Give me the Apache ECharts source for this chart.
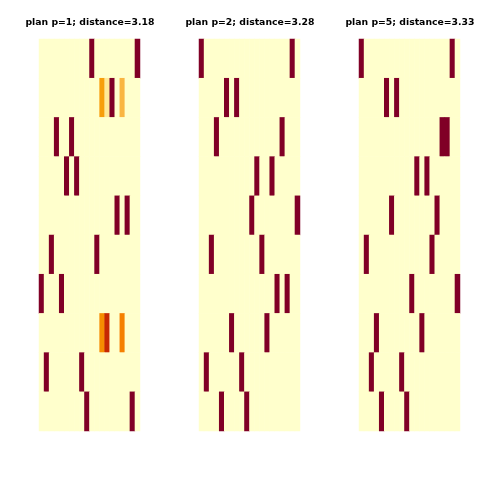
<!DOCTYPE html>
<html>
<head>
<meta charset="utf-8">
<script src="https://cdn.jsdelivr.net/npm/echarts@6/dist/echarts.min.js"></script>
<style>html,body{margin:0;padding:0;background:#fff}#c{width:480px;height:480px}</style>
</head>
<body>
<div id="c"></div>
<script>
// 10 rows x 20 columns; nonzero entries as [row, col, value]
var nRows = 10, nCols = 20;
var titles = ['plan p=1; distance=3.18', 'plan p=2; distance=3.28', 'plan p=5; distance=3.33'];
var plan1 = [
  [0,10,1],[0,19,1],
  [1,12,0.48],[1,13,0.15],[1,14,1],[1,16,0.37],
  [2,3,1],[2,6,1],
  [3,5,1],[3,7,1],
  [4,15,1],[4,17,1],
  [5,2,1],[5,11,1],
  [6,0,1],[6,4,1],
  [7,12,0.55],[7,13,0.85],[7,16,0.6],
  [8,1,1],[8,8,1],
  [9,9,1],[9,18,1]
];
var plan2 = [
  [0,0,1],[0,18,1],
  [1,5,1],[1,7,1],
  [2,3,1],[2,16,1],
  [3,11,1],[3,14,1],
  [4,10,1],[4,19,1],
  [5,2,1],[5,12,1],
  [6,15,1],[6,17,1],
  [7,6,1],[7,13,1],
  [8,1,1],[8,8,1],
  [9,4,1],[9,9,1]
];
var plan3 = [
  [0,0,1],[0,18,1],
  [1,5,1],[1,7,1],
  [2,16,1],[2,17,1],
  [3,11,1],[3,13,1],
  [4,6,1],[4,15,1],
  [5,1,1],[5,14,1],
  [6,10,1],[6,19,1],
  [7,3,1],[7,12,1],
  [8,2,1],[8,8,1],
  [9,4,1],[9,9,1]
];
var plans = [plan1, plan2, plan3];
var colorStops = ['#ffffcc','#ffeda0','#fed976','#f9b440','#f79a00','#f57a00','#e04a08','#c02000','#800026'];

function fullData(sparse) {
  var m = [];
  for (var r = 0; r < nRows; r++) { m.push([]); for (var c = 0; c < nCols; c++) m[r].push(0); }
  sparse.forEach(function (e) { m[e[0]][e[1]] = e[2]; });
  var d = [];
  for (var r2 = 0; r2 < nRows; r2++) for (var c2 = 0; c2 < nCols; c2++) d.push([c2, r2, m[r2][c2]]);
  return d;
}

var xCats = [], yCats = [];
for (var i = 0; i < nCols; i++) xCats.push(String(i));
for (var j = 0; j < nRows; j++) yCats.push(String(j));

var lefts = [39, 199, 359];
var grids = [], xAxes = [], yAxes = [], series = [], titleOpts = [];
plans.forEach(function (p, k) {
  grids.push({left: lefts[k], top: 39, width: 101, height: 392});
  xAxes.push({type: 'category', data: xCats, gridIndex: k, show: false});
  yAxes.push({type: 'category', data: yCats, gridIndex: k, inverse: true, show: false});
  series.push({type: 'heatmap', xAxisIndex: k, yAxisIndex: k, data: fullData(p),
    itemStyle: {borderWidth: 0}, emphasis: {disabled: true}, progressive: 0});
  titleOpts.push({text: titles[k], left: lefts[k] + 46, top: 13, textAlign: 'center',
    textStyle: {fontFamily: 'DejaVu Sans', fontWeight: 'bold', fontSize: 9.3, color: '#000'}});
});

var chart = echarts.init(document.getElementById('c'), null, {renderer: 'canvas'});
chart.setOption({
  animation: false,
  backgroundColor: '#fff',
  title: titleOpts,
  grid: grids,
  xAxis: xAxes,
  yAxis: yAxes,
  visualMap: {type: 'continuous', min: 0, max: 1, show: false, seriesIndex: [0,1,2],
    inRange: {color: colorStops}},
  series: series
});
</script>
</body>
</html>
